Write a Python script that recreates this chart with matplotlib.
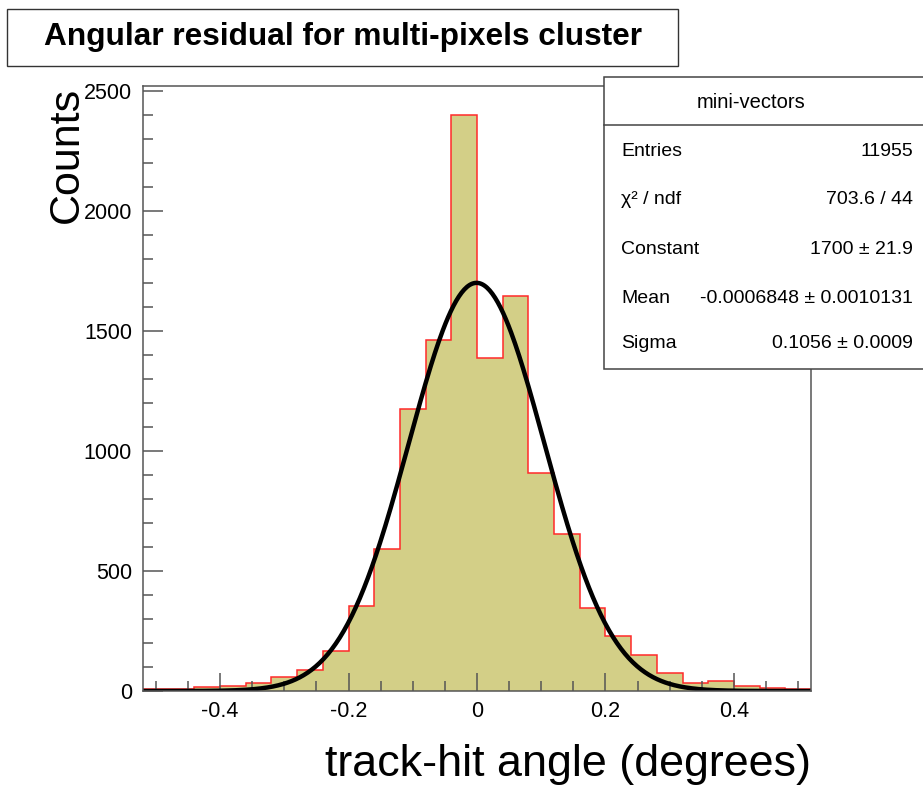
import numpy as np
import matplotlib
matplotlib.use("Agg")
import matplotlib.pyplot as plt
from matplotlib.patches import Rectangle
from matplotlib.ticker import MultipleLocator, FuncFormatter

plt.rcParams['font.family'] = ['Liberation Sans', 'DejaVu Sans']
plt.rcParams['axes.unicode_minus'] = False

# histogram: 26 bins of 0.04 from -0.52 to 0.52
bin_edges = [-0.52, -0.48, -0.44, -0.40, -0.36, -0.32, -0.28, -0.24, -0.20,
             -0.16, -0.12, -0.08, -0.04, 0.0, 0.04, 0.08, 0.12, 0.16, 0.20,
             0.24, 0.28, 0.32, 0.36, 0.40, 0.44, 0.48, 0.52]
counts = [8, 8, 17, 20, 35, 57, 87, 168, 354, 593, 1175, 1460, 2400,
          1385, 1646, 908, 653, 345, 229, 149, 76, 35, 42, 21, 11, 10]

# gaussian fit parameters (from the stats box)
fit_const = 1700
fit_mean = -0.0006848
fit_sigma = 0.1056

stat_names = ["Entries", "χ² / ndf", "Constant", "Mean", "Sigma"]
stat_values = ["11955", "703.6 / 44", "1700 ± 21.9",
               "-0.0006848 ± 0.0010131", "0.1056 ± 0.0009"]

W, H = 923, 788
FILL = '#d3cf87'
FRAME = '#555555'


def fx(px):
    return px / W


def fy(py):
    return 1 - py / H


fig = plt.figure(figsize=(W / 100, H / 100), dpi=100)
fig.patch.set_facecolor('white')

ax = fig.add_axes([fx(143), fy(691), fx(811) - fx(143), fy(86) - fy(691)])
ax.stairs(counts, bin_edges, fill=True, color=FILL, linewidth=0)
ax.stairs(counts, bin_edges, baseline=None, color='#ff2a2a', linewidth=1.1)

xs = np.linspace(bin_edges[0], bin_edges[-1], 500)
ax.plot(xs, fit_const * np.exp(-0.5 * ((xs - fit_mean) / fit_sigma) ** 2),
        color='black', linewidth=3.2, solid_capstyle='butt')

ax.set_xlim(bin_edges[0], bin_edges[-1])
ax.set_ylim(0, 2520)

ax.xaxis.set_major_locator(MultipleLocator(0.2))
ax.xaxis.set_minor_locator(MultipleLocator(0.05))
ax.yaxis.set_major_locator(MultipleLocator(500))
ax.yaxis.set_minor_locator(MultipleLocator(100))
ax.xaxis.set_major_formatter(FuncFormatter(lambda v, p: f'{v:g}' if abs(v) > 1e-9 else '0'))
ax.yaxis.set_major_formatter(FuncFormatter(lambda v, p: f'{int(round(v))}'))

ax.tick_params(which='both', direction='in', top=False, right=False,
               color=FRAME, width=1.1, labelsize=15.5)
ax.tick_params(axis='x', which='major', length=13, pad=7)
ax.tick_params(axis='x', which='minor', length=7)
ax.tick_params(axis='y', which='major', length=14.5, pad=8)
ax.tick_params(axis='y', which='minor', length=7.5)
for s in ax.spines.values():
    s.set_color(FRAME)
    s.set_linewidth(1.1)

# axis titles, ROOT style
fig.text(fx(811), fy(776), 'track-hit angle (degrees)', fontsize=32.3,
         ha='right', va='baseline')
fig.text(fx(67), fy(87), 'Counts', fontsize=31, rotation=90,
         ha='center', va='top')

# title box
fig.patches.append(Rectangle((fx(7), fy(66)), fx(678) - fx(7), fy(9) - fy(66),
                             transform=fig.transFigure, facecolor='white',
                             edgecolor='#333333', linewidth=1))
fig.text(fx(343), fy(37), 'Angular residual for multi-pixels cluster',
         fontsize=22.8, fontweight='bold', ha='center', va='center')

# stats box
fig.patches.append(Rectangle((fx(604), fy(369)), fx(925) - fx(604), fy(77) - fy(369),
                             transform=fig.transFigure, facecolor='white',
                             edgecolor='#444444', linewidth=1.1, zorder=5))
fig.lines.append(plt.Line2D([fx(604), fx(923)], [fy(125), fy(125)],
                            transform=fig.transFigure, color='#444444',
                            linewidth=1.1, zorder=6))
fig.text(fx(751), fy(103), 'mini-vectors', fontsize=14.5, ha='center',
         va='center', zorder=7)
row_y = [151, 199, 249, 298, 344]
for name, val, y in zip(stat_names, stat_values, row_y):
    fig.text(fx(621), fy(y), name, fontsize=14, ha='left', va='center', zorder=7)
    fig.text(fx(913), fy(y), val, fontsize=14, ha='right', va='center', zorder=7)

fig.savefig('out.png', dpi=100)
